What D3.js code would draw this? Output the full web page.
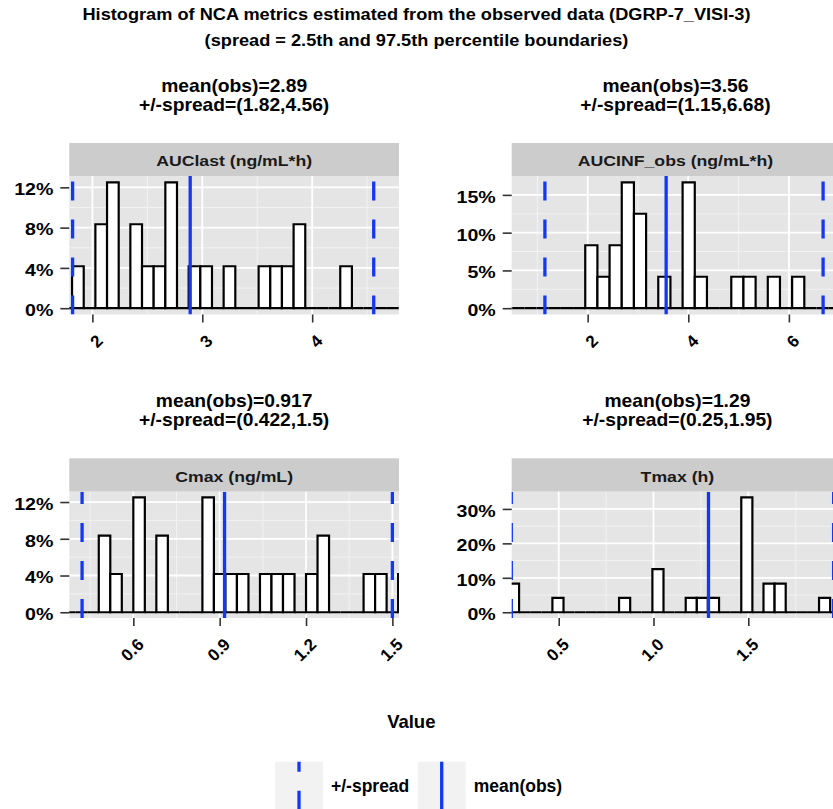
<!DOCTYPE html>
<html>
<head>
<meta charset="utf-8">
<script src="https://cdn.jsdelivr.net/npm/d3@7"></script>
<style>
  body { margin: 0; background: #fff; }
  svg text { font-family: "Liberation Sans", Arial, Helvetica, sans-serif; font-weight: bold; }
</style>
</head>
<body>
<svg id="chart" width="833" height="809"></svg>
<script>
// ---- data -------------------------------------------------------------
const titleLines = [
  "Histogram of NCA metrics estimated from the observed data (DGRP-7_VISI-3)",
  "(spread = 2.5th and 97.5th percentile boundaries)"
];
const metricNames = ["AUClast (ng/mL*h)", "AUCINF_obs (ng/mL*h)", "Cmax (ng/mL)", "Tmax (h)"];
const meanObs    = [2.89, 3.56, 0.917, 1.29];
const spreadLow  = [1.82, 1.15, 0.422, 0.25];
const spreadHigh = [4.56, 6.68, 1.5, 1.95];
const nObs = 24;

// histogram bins: first bin edge, bin width and counts per bin
const binStart = [1.709, 0.2587, 0.36, 0.2323];
const binWidth = [0.1061, 0.2419, 0.04, 0.0586];
const aucLastCounts = [0, 1, 0, 2, 3, 0, 2, 1, 1, 3, 0, 1, 1, 0, 1, 0, 0, 1, 1, 1, 2, 0, 0, 0, 1, 0, 0, 0, 0, 0];
const aucInfCounts  = [0, 0, 0, 0, 0, 0, 0, 2, 1, 2, 4, 3, 0, 1, 0, 4, 1, 0, 0, 1, 1, 0, 1, 0, 1, 0, 0, 0];
const cmaxCounts    = [0, 0, 0, 2, 1, 0, 3, 0, 2, 0, 0, 0, 3, 1, 1, 1, 0, 1, 1, 1, 0, 1, 2, 0, 0, 0, 1, 1, 0, 1];
const tmaxCounts    = [2, 0, 0, 0, 1, 0, 0, 0, 0, 0, 1, 0, 0, 3, 0, 0, 1, 1, 1, 0, 0, 8, 0, 2, 2, 0, 0, 0, 1, 0, 0];

// axis limits and ticks
const xDomains = [[1.79, 4.79], [0.49, 7.0], [0.3776, 1.523], [0.252, 2.0]];
const xTickValues = [[2, 3, 4], [2, 4, 6], [0.6, 0.9, 1.2, 1.5], [0.5, 1.0, 1.5]];
const xTickLabels = [["2", "3", "4"], ["2", "4", "6"], ["0.6", "0.9", "1.2", "1.5"], ["0.5", "1.0", "1.5"]];
const yTickValues = [[0, 4, 8, 12], [0, 5, 10, 15], [0, 4, 8, 12], [0, 10, 20, 30]];
const yTickLabels = [["0%", "4%", "8%", "12%"], ["0%", "5%", "10%", "15%"], ["0%", "4%", "8%", "12%"], ["0%", "10%", "20%", "30%"]];

const xAxisTitle = "Value";
const legendLabels = ["+/-spread", "mean(obs)"];

// ---- layout & style ---------------------------------------------------
const BLUE = "#1438f2";
const layout = [
  { left: 69.3,  right: 399,   stripTop: 143,   top: 176,   bottom: 314.5 },
  { left: 511.7, right: 839.2, stripTop: 143,   top: 176,   bottom: 314.5 },
  { left: 69.3,  right: 399,   stripTop: 458.3, top: 491.7, bottom: 618 },
  { left: 511.7, right: 843.1, stripTop: 458.3, top: 491.7, bottom: 618 }
];
const countsByMetric = [aucLastCounts, aucInfCounts, cmaxCounts, tmaxCounts];

const svg = d3.select("#chart");

// main title
svg.selectAll("text.title").data(titleLines).join("text")
  .attr("class", "title")
  .attr("transform", (d, i) => `translate(416.5,${i === 0 ? 19.5 : 46}) scale(1.07,1)`)
  .attr("text-anchor", "middle")
  .attr("font-size", 17)
  .attr("fill", "#000")
  .text(d => d);

function minorTicks(major, domain) {
  const step = major[1] - major[0];
  const out = [major[0] - step / 2].concat(major.map(v => v + step / 2));
  return out.filter(v => v > domain[0] && v < domain[1]);
}

metricNames.forEach((name, i) => {
  const L = layout[i];
  const bins = countsByMetric[i].map((c, k) => ({
    x0: binStart[i] + k * binWidth[i],
    x1: binStart[i] + (k + 1) * binWidth[i],
    pct: c / nObs * 100
  }));
  const yMax = d3.max(bins, d => d.pct);
  const x = d3.scaleLinear().domain(xDomains[i]).range([L.left, L.right]);
  const y = d3.scaleLinear().domain([-0.05 * yMax, 1.05 * yMax]).range([L.bottom, L.top]);
  const g = svg.append("g").attr("class", "facet");
  const cx = (L.left + L.right) / 2;

  // summary heading above each facet
  const heading = [`mean(obs)=${meanObs[i]}`, `+/-spread=(${spreadLow[i]},${spreadHigh[i]})`];
  g.selectAll("text.heading").data(heading).join("text")
    .attr("class", "heading")
    .attr("transform", (d, j) => `translate(${cx},${L.stripTop - (j === 0 ? 51.3 : 32.3)}) scale(1.1,1)`)
    .attr("text-anchor", "middle")
    .attr("font-size", 17.5)
    .attr("fill", "#000")
    .text(d => d);

  // strip
  g.append("rect")
    .attr("x", L.left).attr("y", L.stripTop)
    .attr("width", L.right - L.left).attr("height", L.top - L.stripTop)
    .attr("fill", "#cccccc");
  g.append("text")
    .attr("transform", `translate(${cx},${(L.stripTop + L.top) / 2 + 6.5}) scale(1.14,1)`)
    .attr("text-anchor", "middle")
    .attr("font-size", 15.5)
    .attr("fill", "#1a1a1a")
    .text(name);

  // panel background and grid
  g.append("rect")
    .attr("x", L.left).attr("y", L.top)
    .attr("width", L.right - L.left).attr("height", L.bottom - L.top)
    .attr("fill", "#e5e5e5");
  const xMinor = minorTicks(xTickValues[i], xDomains[i]);
  const yMinor = minorTicks(yTickValues[i], y.domain());
  g.selectAll("line.xminor").data(xMinor).join("line")
    .attr("x1", d => x(d)).attr("x2", d => x(d))
    .attr("y1", L.top).attr("y2", L.bottom)
    .attr("stroke", "#f2f2f2").attr("stroke-width", 1);
  g.selectAll("line.yminor").data(yMinor).join("line")
    .attr("x1", L.left).attr("x2", L.right)
    .attr("y1", d => y(d)).attr("y2", d => y(d))
    .attr("stroke", "#f2f2f2").attr("stroke-width", 1);
  g.selectAll("line.xmajor").data(xTickValues[i]).join("line")
    .attr("x1", d => x(d)).attr("x2", d => x(d))
    .attr("y1", L.top).attr("y2", L.bottom)
    .attr("stroke", "#ffffff").attr("stroke-width", 1.8);
  g.selectAll("line.ymajor").data(yTickValues[i]).join("line")
    .attr("x1", L.left).attr("x2", L.right)
    .attr("y1", d => y(d)).attr("y2", d => y(d))
    .attr("stroke", "#ffffff").attr("stroke-width", 1.8);

  // clipped content
  const clipId = `clip-${i}`;
  g.append("clipPath").attr("id", clipId)
    .append("rect")
    .attr("x", L.left).attr("y", L.top)
    .attr("width", L.right - L.left).attr("height", L.bottom - L.top);
  const body = g.append("g").attr("clip-path", `url(#${clipId})`);

  body.selectAll("path.bar").data(bins).join("path")
    .attr("class", "bar")
    .attr("d", d => `M${x(d.x0)},${y(0)}V${y(d.pct)}H${x(d.x1)}V${y(0)}Z`)
    .attr("fill", "#ffffff")
    .attr("stroke", "#000")
    .attr("stroke-width", 2.2)
    .attr("stroke-linejoin", "miter");

  // spread boundaries (dashed) and mean (solid), drawn bottom-up
  const vlines = [
    { v: spreadLow[i], dash: "19,19" },
    { v: spreadHigh[i], dash: "19,19" },
    { v: meanObs[i], dash: null }
  ];
  body.selectAll("line.vline").data(vlines).join("line")
    .attr("class", "vline")
    .attr("x1", d => x(d.v)).attr("x2", d => x(d.v))
    .attr("y1", L.bottom).attr("y2", L.top)
    .attr("stroke", BLUE)
    .attr("stroke-width", 3.3)
    .attr("stroke-dasharray", d => d.dash);

  // y axis
  const yAxis = g.append("g")
    .attr("transform", `translate(${L.left},0)`)
    .call(d3.axisLeft(y).tickValues(yTickValues[i]).tickSize(9).tickSizeOuter(0)
      .tickFormat((d, j) => yTickLabels[i][j]));
  yAxis.select(".domain").remove();
  yAxis.selectAll(".tick line").attr("stroke", "#333").attr("stroke-width", 1.6);
  yAxis.selectAll(".tick text")
    .attr("x", 0).attr("dy", "0.45em")
    .attr("transform", "translate(-16,0) scale(1.2,1)")
    .attr("text-anchor", "end")
    .attr("font-size", 16.3)
    .attr("font-family", null)
    .attr("fill", "#000");

  // x axis
  const xAxis = g.append("g")
    .attr("transform", `translate(0,${L.bottom})`)
    .call(d3.axisBottom(x).tickValues(xTickValues[i]).tickSize(8).tickSizeOuter(0)
      .tickFormat((d, j) => xTickLabels[i][j]));
  xAxis.select(".domain").remove();
  xAxis.selectAll(".tick line").attr("stroke", "#333").attr("stroke-width", 1.6);
  xAxis.selectAll(".tick text")
    .attr("x", 0).attr("y", 0).attr("dy", 0)
    .attr("transform", "translate(11,27.5) rotate(-45)")
    .attr("text-anchor", "end")
    .attr("font-size", 17)
    .attr("font-family", null)
    .attr("fill", "#000");
});

// x axis title
svg.append("text")
  .attr("x", 411.3).attr("y", 728.3)
  .attr("text-anchor", "middle")
  .attr("font-size", 18.5)
  .attr("fill", "#000")
  .text(xAxisTitle);

// legend
const keyX = [275, 417.7];
const keyTop = 761.7, keySize = 48;
const legend = svg.append("g").attr("class", "legend");
legend.selectAll("rect.key").data(legendLabels).join("rect")
  .attr("class", "key")
  .attr("x", (d, i) => keyX[i]).attr("y", keyTop)
  .attr("width", keySize).attr("height", keySize)
  .attr("fill", "#f2f2f2");
legend.selectAll("line.key").data(legendLabels).join("line")
  .attr("class", "key")
  .attr("x1", (d, i) => keyX[i] + keySize / 2).attr("x2", (d, i) => keyX[i] + keySize / 2)
  .attr("y1", keyTop + keySize).attr("y2", keyTop)
  .attr("stroke", BLUE).attr("stroke-width", 3.3)
  .attr("stroke-dasharray", (d, i) => i === 0 ? "19,19" : null);
legend.selectAll("text.key").data(legendLabels).join("text")
  .attr("class", "key")
  .attr("x", (d, i) => keyX[i] + keySize + 8)
  .attr("y", 792.3)
  .attr("font-size", 17.5)
  .attr("fill", "#000")
  .text(d => d);
</script>
</body>
</html>
